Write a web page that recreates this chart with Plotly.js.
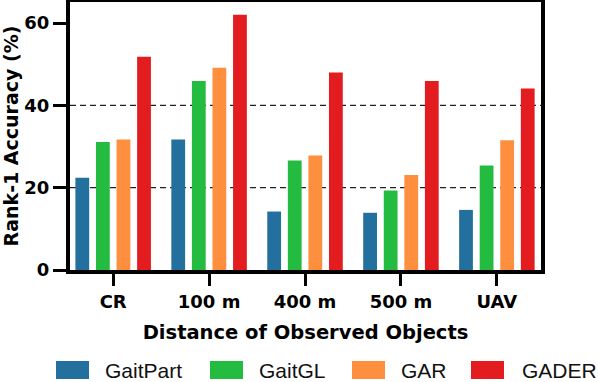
<!DOCTYPE html>
<html>
<head>
<meta charset="utf-8">
<script src="https://cdn.plot.ly/plotly-3.0.1.min.js"></script>
<style>html,body{margin:0;padding:0;background:#fff;}#chart{width:598px;height:382px;}</style>
</head>
<body>
<div id="chart"></div>
<script>
const categories = ['CR', '100 m', '400 m', '500 m', 'UAV'];
const seriesNames = ['GaitPart', 'GaitGL', 'GAR', 'GADER'];
const gaitPart = [22.4, 31.7, 14.2, 13.9, 14.6];
const gaitGL = [31.1, 45.9, 26.6, 19.3, 25.4];
const gar = [31.7, 49.1, 27.8, 23.1, 31.5];
const gader = [51.8, 62.0, 48.0, 45.9, 44.1];
const yTickVals = [0, 20, 40, 60];
const gridVals = [20, 40];
const colors = ['#23709f', '#23bc40', '#fe8f3e', '#e21c1f'];

const seriesValues = [gaitPart, gaitGL, gar, gader];

const W = 598, H = 382;
const M = {l: 70, r: 57, t: 2, b: 112};
const pw = W - M.l - M.r, ph = H - M.t - M.b;
const px2x = p => (p - M.l) / pw;
const py2y = p => (H - M.b - p) / ph;

const traces = seriesNames.map((name, i) => ({
  type: 'bar',
  name: name,
  x: categories,
  y: seriesValues[i],
  marker: {color: colors[i], line: {width: 0}},
  showlegend: false,
  hoverinfo: 'x+y+name'
}));

const shapes = gridVals.map(v => ({
  type: 'line', xref: 'paper', yref: 'y', x0: 0, x1: 1, y0: v, y1: v,
  line: {color: '#222', width: 1.2, dash: '6px,4px'}, layer: 'below'
}));

// custom legend with large swatches
const legendSwatchX = [56, 210, 352, 471];
const legendTextX = [103, 257, 399, 520];
const annotations = [];
seriesNames.forEach((name, i) => {
  shapes.push({
    type: 'rect', xref: 'paper', yref: 'paper',
    x0: px2x(legendSwatchX[i]), x1: px2x(legendSwatchX[i] + 33),
    y0: py2y(379), y1: py2y(361),
    fillcolor: colors[i], line: {width: 0}
  });
  annotations.push({
    xref: 'paper', yref: 'paper', x: px2x(legendTextX[i]), y: py2y(370),
    xanchor: 'left', yanchor: 'middle', showarrow: false, text: name,
    font: {family: 'Liberation Sans, Arial, sans-serif', size: 21, color: '#111'}
  });
});

const layout = {
  width: W, height: H,
  margin: M,
  paper_bgcolor: '#fff', plot_bgcolor: '#fff',
  barmode: 'group', bargap: 0.142, bargroupgap: 0.33,
  showlegend: false,
  xaxis: {
    type: 'category',
    range: [-0.45, 4.46],
    showline: true, linecolor: '#000', linewidth: 4, mirror: true,
    ticks: 'outside', ticklen: 12, tickwidth: 3, tickcolor: '#000',
    showgrid: false, zeroline: false,
    tickfont: {family: 'DejaVu Sans, sans-serif', size: 18, color: '#000', weight: 'bold'},
    title: {text: 'Distance of Observed Objects', standoff: 16,
      font: {family: 'DejaVu Sans, sans-serif', size: 19.5, color: '#000', weight: 'bold'}}
  },
  yaxis: {
    range: [0, 65.1],
    tickvals: yTickVals,
    showline: true, linecolor: '#000', linewidth: 4, mirror: true,
    ticks: 'outside', ticklen: 13, tickwidth: 3, tickcolor: '#000',
    showgrid: false, zeroline: false,
    tickfont: {family: 'DejaVu Sans, sans-serif', size: 18, color: '#000', weight: 'bold'},
    title: {text: 'Rank-1 Accuracy (%)', standoff: 6,
      font: {family: 'DejaVu Sans, sans-serif', size: 19, color: '#000', weight: 'bold'}}
  },
  shapes: shapes,
  annotations: annotations
};

Plotly.newPlot('chart', traces, layout, {displayModeBar: false, staticPlot: true});
</script>
</body>
</html>
